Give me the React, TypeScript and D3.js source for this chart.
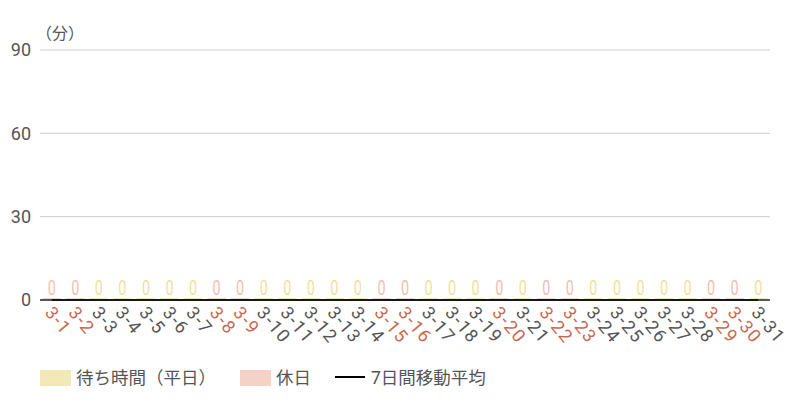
import * as d3 from "d3";
import React, { useEffect, useRef } from "react";

const days = [
  "3-1", "3-2", "3-3", "3-4", "3-5", "3-6", "3-7", "3-8", "3-9", "3-10",
  "3-11", "3-12", "3-13", "3-14", "3-15", "3-16", "3-17", "3-18", "3-19", "3-20",
  "3-21", "3-22", "3-23", "3-24", "3-25", "3-26", "3-27", "3-28", "3-29", "3-30", "3-31",
];
const holidays = ["3-1", "3-2", "3-8", "3-9", "3-15", "3-16", "3-20", "3-22", "3-23", "3-29", "3-30"];
const waitMinutes = [0, 0, 0, 0, 0, 0, 0, 0, 0, 0, 0, 0, 0, 0, 0, 0, 0, 0, 0, 0, 0, 0, 0, 0, 0, 0, 0, 0, 0, 0, 0];
const movingAvg = [0, 0, 0, 0, 0, 0, 0, 0, 0, 0, 0, 0, 0, 0, 0, 0, 0, 0, 0, 0, 0, 0, 0, 0, 0, 0, 0, 0, 0, 0, 0];
const yTicks = [0, 30, 60, 90];

const weekdayColor = "#f2e8b8";
const holidayColor = "#f4d2c6";
const weekdayLabel = "#efdfa0";
const holidayLabel = "#f0c0b0";
const holidayText = "#c8694f";
const textColor = "#555";

export default function App() {
  const svgRef = useRef<SVGSVGElement>(null);

  useEffect(() => {
    const width = 800;
    const height = 400;
    const margin = { top: 50, right: 30, bottom: 100, left: 40 };
    const font = "Roboto, 'Noto Sans CJK JP', sans-serif";

    const svg = d3.select(svgRef.current);
    svg.selectAll("*").remove();

    const x = d3
      .scaleBand<string>()
      .domain(days)
      .range([margin.left, width - margin.right])
      .paddingInner(0.22)
      .paddingOuter(0.11);
    const y = d3.scaleLinear().domain([0, 90]).range([height - margin.bottom, margin.top]);

    const isHoliday = (d: string) => holidays.includes(d);

    // grid
    svg
      .append("g")
      .selectAll("line")
      .data(yTicks.filter((t) => t > 0))
      .join("line")
      .attr("x1", margin.left)
      .attr("x2", width - margin.right)
      .attr("y1", (d) => y(d))
      .attr("y2", (d) => y(d))
      .attr("stroke", "#cccccc")
      .attr("stroke-width", 1);

    // y labels
    svg
      .append("g")
      .selectAll("text")
      .data(yTicks)
      .join("text")
      .attr("x", 31)
      .attr("y", (d) => y(d))
      .attr("dy", "0.35em")
      .attr("text-anchor", "end")
      .attr("font-family", font)
      .attr("font-size", 18)
      .attr("fill", textColor)
      .text((d) => d);

    svg
      .append("text")
      .attr("x", 36)
      .attr("y", 39)
      .attr("font-family", font)
      .attr("font-size", 16)
      .attr("fill", textColor)
      .text("（分）");

    // bars (min height so zero bars show a sliver)
    svg
      .append("g")
      .selectAll("rect")
      .data(days)
      .join("rect")
      .attr("x", (d) => x(d)!)
      .attr("width", x.bandwidth())
      .attr("y", (d, i) => Math.min(y(waitMinutes[i]), y(0) - 2))
      .attr("height", (d, i) => Math.max(y(0) - y(waitMinutes[i]), 2))
      .attr("fill", (d) => (isHoliday(d) ? holidayColor : weekdayColor));

    // value labels
    svg
      .append("g")
      .selectAll("text")
      .data(days)
      .join("text")
      .attr("x", (d) => x(d)! + x.bandwidth() / 2)
      .attr("y", (d, i) => y(waitMinutes[i]) - 5)
      .attr("text-anchor", "middle")
      .attr("font-family", font)
      .attr("font-size", 20)
      .attr("transform", (d) => {
        const cx = x(d)! + x.bandwidth() / 2;
        return `translate(${cx},0) scale(0.72,1) translate(${-cx},0)`;
      })
      .attr("fill", (d) => (isHoliday(d) ? holidayLabel : weekdayLabel))
      .text((d, i) => waitMinutes[i]);

    // x axis line
    svg
      .append("line")
      .attr("x1", margin.left)
      .attr("x2", width - margin.right)
      .attr("y1", y(0))
      .attr("y2", y(0))
      .attr("stroke", "#222")
      .attr("stroke-width", 1.5);

    // moving average
    const line = d3
      .line<number>()
      .x((d, i) => x(days[i])! + x.bandwidth() / 2)
      .y((d) => y(d));
    svg
      .append("path")
      .datum(movingAvg)
      .attr("d", line)
      .attr("fill", "none")
      .attr("stroke", "#000")
      .attr("stroke-width", 1.5);

    // x labels
    svg
      .append("g")
      .selectAll("text")
      .data(days)
      .join("text")
      .attr("transform", (d) => `translate(${x(d)! + x.bandwidth() / 2 - 3},${y(0) + 9}) rotate(50)`)
      .attr("dy", "0.35em")
      .attr("text-anchor", "start")
      .attr("font-family", font)
      .attr("font-size", 18)
      .attr("letter-spacing", 1.5)
      .attr("fill", (d) => (isHoliday(d) ? holidayText : textColor))
      .text((d) => d);

    // legend
    const legend = svg.append("g").attr("font-family", font).attr("font-size", 17.5).attr("fill", textColor);
    const items = [
      { label: "待ち時間（平日）", color: weekdayColor, type: "rect", x: 40 },
      { label: "休日", color: holidayColor, type: "rect", x: 240 },
      { label: "7日間移動平均", color: "#000", type: "line", x: 335 },
    ];
    items.forEach((it) => {
      if (it.type === "rect") {
        legend.append("rect").attr("x", it.x).attr("y", 370).attr("width", 31).attr("height", 16).attr("fill", it.color);
      } else {
        legend
          .append("line")
          .attr("x1", it.x)
          .attr("x2", it.x + 30)
          .attr("y1", 377)
          .attr("y2", 377)
          .attr("stroke", it.color)
          .attr("stroke-width", 2);
      }
      legend
        .append("text")
        .attr("x", it.x + 36)
        .attr("y", 378)
        .attr("dy", "0.35em")
        .text(it.label);
    });
  }, []);

  return (
    <svg
      ref={svgRef}
      width={800}
      height={400}
      style={{ position: "absolute", left: 0, top: 0, background: "#fff" }}
    />
  );
}
